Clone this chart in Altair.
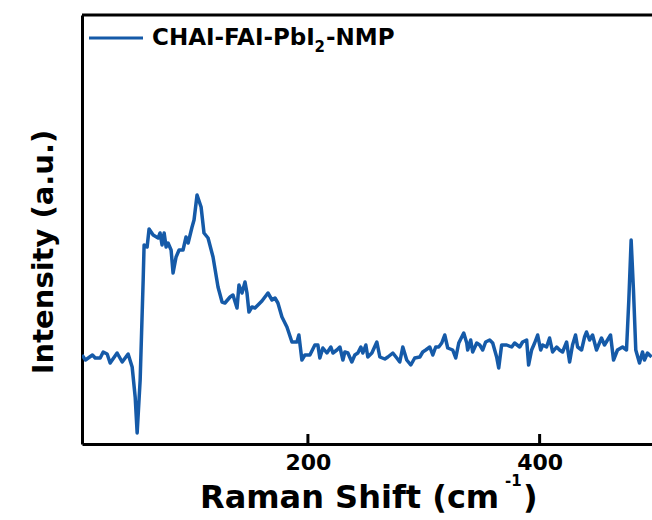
import altair as alt
import pandas as pd

# ---- data (Raman shift in cm^-1, intensity in arbitrary units) ----
shift = [5, 8, 14, 16.4, 20.7, 23.3, 26.7, 29.3, 35.3, 39.7, 44.8, 48.3, 50.9, 52.6, 55.2,
         57.8, 58.6, 61.2, 62.9, 66.4, 70.7, 72.4, 74.1, 75.9, 77.6, 79.3, 81.9, 83.6, 86.2,
         88.8, 92.2, 94.8, 96.6, 100, 101.7, 104.3, 107.8, 110.3, 113.8, 118.1, 122.4, 125.9,
         128.4, 132.8, 135.3, 138.8, 140.5, 143.1, 145.7, 147.4, 149.1, 151.7, 154.3, 156.9,
         160.3, 162.9, 165.5, 169, 171.6, 174.1, 177.6, 181.9, 186.2, 190.5, 192.2, 194.8,
         197.4, 201.7, 206, 208.6, 210.3, 212.9, 216.4, 219.8, 221.6, 225, 227.6, 230.2, 231.9,
         234.5, 237.9, 240.5, 243.1, 245.7, 247.4, 250, 251.7, 255.2, 259.5, 262.1, 266.4, 269,
         273.3, 276.7, 279.3, 281.9, 285.3, 288.8, 292.2, 296.6, 299.1, 301.7, 305.2, 307.8,
         310.3, 312.9, 315.5, 318.1, 320.7, 325, 327.6, 330.2, 334.5, 337.1, 337.9, 340.5,
         342.2, 345.7, 348.3, 350.9, 353.4, 356.9, 359.5, 362.9, 364.7, 367.2, 371.6, 375.9,
         378.4, 382.8, 385.3, 388.8, 390.5, 393.1, 395.7, 398.3, 400.9, 402.6, 406, 408.6,
         411.2, 414.7, 417.2, 419.8, 423.3, 425.9, 428.4, 431, 432.8, 436.2, 438.8, 440.5,
         443.1, 445.7, 449.1, 453.4, 456, 458.6, 461.2, 463.8, 467.2, 471.6, 475, 477, 479,
         481, 483, 486.2, 488.8, 490.5, 493.1, 496.6]
intensity = [88, 83, 88, 85, 85, 91, 89, 80, 90, 81, 89, 76, 46, 10, 63,
             163, 198, 196, 214, 208, 205, 210, 198, 210, 196, 200, 193, 170, 186,
             193, 193, 206, 200, 216, 223, 248, 236, 210, 205, 186, 156, 141,
             140, 146, 148, 135, 158, 150, 161, 150, 131, 136, 135, 138,
             142, 146, 150, 143, 145, 140, 126, 116, 101, 101, 108, 83,
             88, 88, 98, 98, 85, 95, 90, 96, 90, 93, 96, 83, 91,
             90, 81, 88, 90, 96, 90, 98, 86, 90, 101, 86, 84, 86,
             90, 85, 81, 96, 83, 78, 85, 86, 91, 93, 96, 88,
             96, 96, 100, 108, 95, 93, 85, 100, 110, 100, 93, 103,
             91, 100, 98, 93, 101, 103, 100, 86, 75, 98, 98, 96,
             100, 96, 101, 103, 78, 93, 100, 108, 93, 98, 96, 105,
             91, 96, 93, 91, 101, 81, 98, 108, 96, 93, 106, 111,
             103, 108, 93, 105, 98, 103, 108, 83, 93, 96, 93, 143, 203,
             153, 93, 80, 91, 83, 90, 86]

tick_values = [200, 400]
series_name = ["CHAI-FAI-PbI", "2", "-NMP"]
x_title = ["Raman Shift (cm", "-1", ")"]
y_title = "Intensity (a.u.)"

# ---- styling ----
W, H = 570, 429
PAD_L, PAD_T = 82, 15
FONT = "DejaVu Sans"
BLUE = "#155aa8"

df = pd.DataFrame({"shift": shift, "intensity": intensity})
one = pd.DataFrame({"k": [0]})

xscale = alt.Scale(domain=[5, 497], nice=False, zero=False)
yscale = alt.Scale(domain=[-1, 428], nice=False, zero=False)

line = alt.Chart(df).mark_line(color=BLUE, strokeWidth=3.5, clip=True,
                               strokeJoin="round").encode(
    x=alt.X("shift:Q", scale=xscale,
            axis=alt.Axis(values=tick_values, title=None, grid=False, ticks=False,
                          domainColor="black", domainWidth=3, format="d",
                          labelFont=FONT, labelFontWeight="bold", labelFontSize=22,
                          labelColor="black", labelPadding=8)),
    y=alt.Y("intensity:Q", scale=yscale,
            axis=alt.Axis(title=None, labels=False, ticks=False, grid=False,
                          domainColor="black", domainWidth=3)),
)

ticks = alt.Chart(pd.DataFrame({"shift": tick_values})).mark_rule(
    color="black", strokeWidth=3).encode(
    x=alt.X("shift:Q", scale=xscale), y=alt.value(H), y2=alt.value(H - 10))

top_border = alt.Chart(one).mark_rule(color="black", strokeWidth=3).encode(
    x=alt.value(0), x2=alt.value(W), y=alt.value(0))

legend_line = alt.Chart(one).mark_rule(color=BLUE, strokeWidth=3).encode(
    x=alt.value(7), x2=alt.value(61), y=alt.value(23))


def txt(s, x, y, size, angle=0, align="left"):
    kw = dict(text=s, font=FONT, fontWeight="bold", fontSize=size, color="black",
              align=align, baseline="alphabetic")
    if angle:
        kw["angle"] = angle
    return alt.Chart(one).mark_text(**kw).encode(x=alt.value(x), y=alt.value(y))


legend_txt = [
    txt(series_name[0], 70, 30, 23),
    txt(series_name[1], 232.5, 37, 15),
    txt(series_name[2], 244, 30, 23),
]

xt = [
    txt(x_title[0], 118, 493, 32),
    txt(x_title[1], 423, 471, 15),
    txt(x_title[2], 441, 493, 32),
]

yt = txt(y_title, 53 - PAD_L, 252 - PAD_T, 29, angle=270, align="center")

chart = alt.layer(line, ticks, top_border, legend_line, *legend_txt, *xt, yt).properties(
    width=W, height=H,
    autosize=alt.AutoSizeParams(type="none"),
    padding={"left": PAD_L, "top": PAD_T, "right": 0, "bottom": 520 - PAD_T - H},
).configure_view(stroke=None).configure(background="white")

chart.save("out.html", embed_options={"renderer": "svg", "actions": False})
